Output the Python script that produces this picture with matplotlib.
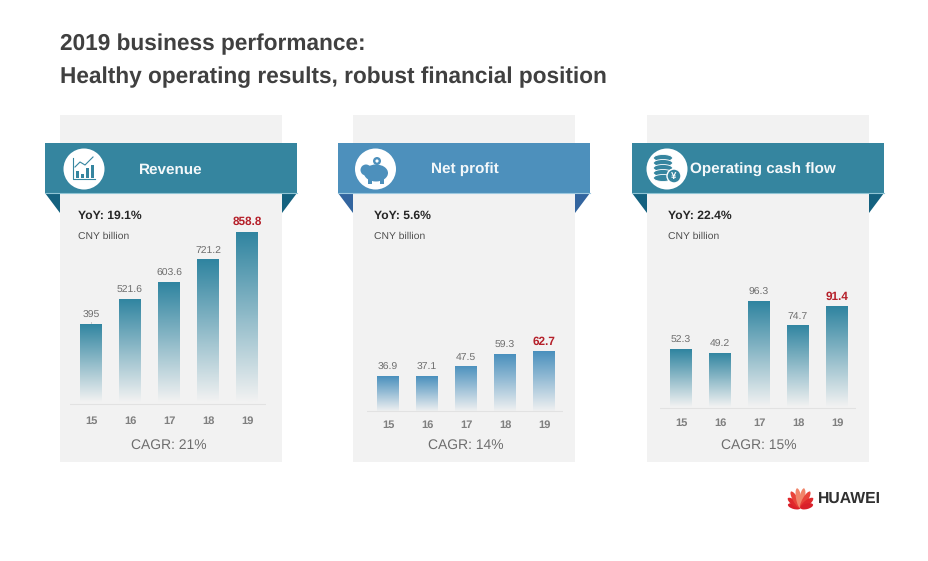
import numpy as np
import matplotlib
matplotlib.use("Agg")
import matplotlib.pyplot as plt
from matplotlib.colors import LinearSegmentedColormap
from matplotlib.patches import Circle, Ellipse, Polygon, Rectangle

plt.rcParams['font.family'] = ['Liberation Sans', 'DejaVu Sans']
plt.rcParams['text.hinting'] = 'no_hinting'

W, H = 929, 561

years = ['15', '16', '17', '18', '19']
revenue = [395, 521.6, 603.6, 721.2, 858.8]
net_profit = [36.9, 37.1, 47.5, 59.3, 62.7]
cash_flow = [52.3, 49.2, 96.3, 74.7, 91.4]
value_labels = [
    ['395', '521.6', '603.6', '721.2', '858.8'],
    ['36.9', '37.1', '47.5', '59.3', '62.7'],
    ['52.3', '49.2', '96.3', '74.7', '91.4'],
]
titles = ['Revenue', 'Net profit', 'Operating cash flow']
yoy = ['YoY: 19.1%', 'YoY: 5.6%', 'YoY: 22.4%']
cagr = ['CAGR: 21%', 'CAGR: 14%', 'CAGR: 15%']
series = [revenue, net_profit, cash_flow]

panel_left = [60, 353, 647]
title_x = [171, 465, 763]
icon_x = [84, 375.5, 667]
text_x = [78, 374, 668]
first_bar = [91, 388, 681]
base_y = [402, 412, 407]
axis_y = [404, 411, 408]
tick_y = [421, 425, 423]
px_per_unit = [0.198, 0.97, 1.1]
ribbon_col = ['#35859f', '#4d90bc', '#35859f']
tail_col = ['#14617f', '#33659f', '#14617f']
edge_col = ['#8fc4d4', '#9cc8e0', '#8fc4d4']
bar_col = ['#2f84a0', '#4a90bd', '#2f84a0']
panel_col = '#f2f2f2'

fig = plt.figure(figsize=(W / 100, H / 100), dpi=100, facecolor='white')

# page layer in pixel coords, y going down like the picture
bg = fig.add_axes([0, 0, 1, 1])
bg.set_xlim(0, W)
bg.set_ylim(H, 0)
bg.axis('off')

bg.text(60, 44, '2019 business performance:', fontsize=16.25, fontweight='bold',
        color='#404040', va='center')
bg.text(60, 77, 'Healthy operating results, robust financial position', fontsize=16.25,
        fontweight='bold', color='#404040', va='center')

for i in range(3):
    x = panel_left[i]
    bg.add_patch(Rectangle((x, 115), 222, 347, color=panel_col, lw=0))
    bg.add_patch(Polygon([(x - 15, 193), (x, 193), (x, 213)], color=tail_col[i], lw=0))
    bg.add_patch(Polygon([(x + 222, 193), (x + 237, 193), (x + 222, 213)], color=tail_col[i], lw=0))
    bg.add_patch(Rectangle((x - 15, 143), 252, 50, color=ribbon_col[i], lw=0))
    bg.plot([x - 15, x + 237], [192.8, 192.8], color=edge_col[i], lw=0.8)
    bg.add_patch(Circle((icon_x[i], 169), 20.5, color='white', lw=0))
    bg.text(title_x[i], 169.5, titles[i], color='#f4f8fa', fontsize=11, fontweight='bold',
            ha='center', va='center')
    bg.text(text_x[i], 216, yoy[i], color='#262626', fontsize=8.7, fontweight='bold', va='center')
    bg.text(text_x[i], 236, 'CNY billion', color='#505050', fontsize=7.5, va='center')
    bg.text(first_bar[i] + 78, 445, cagr[i], color='#6e6e6e', fontsize=10, ha='center', va='center')

# revenue icon
c = ribbon_col[0]
bg.plot([73, 73, 95], [158, 179, 179], color=c, lw=0.8)
for bx, top in zip([76, 81, 86, 91], [171, 174, 168, 165]):
    bg.add_patch(Rectangle((bx, top), 3.5, 178 - top, color=c, lw=0))
bg.plot([75, 80, 85, 93], [167, 162, 165, 157], color=c, lw=0.8)

# piggy bank icon
c = ribbon_col[1]
bg.add_patch(Ellipse((376, 173), 24, 17, color=c, lw=0))
bg.add_patch(Circle((366, 170), 5.5, color=c, lw=0))
bg.add_patch(Rectangle((368, 178), 4, 6, color=c, lw=0))
bg.add_patch(Rectangle((380, 178), 4, 6, color=c, lw=0))
bg.add_patch(Circle((377, 161), 4, color=c, lw=0))
bg.add_patch(Circle((377, 161), 1.6, color='white', lw=0))

# coin stack icon
c = ribbon_col[2]
for cy in [158, 163, 168, 173, 178]:
    bg.add_patch(Ellipse((663, cy), 19, 7, facecolor=c, edgecolor='white', lw=0.6))
bg.add_patch(Circle((674, 176), 7, facecolor=c, edgecolor='white', lw=1))
bg.text(674, 176, '¥', color='white', fontsize=7, fontweight='bold', ha='center', va='center')

# tiny leader above the 395 bar
bg.plot([91, 91], [322, 325], color='#c8c8c8', lw=0.7)

# logo
petal_ang = [-75, -52, -30, -10, 10, 30, 52, 75]
petal_len = [13, 16, 19, 20, 20, 19, 16, 13]
petal_col = ['#d9202a', '#e0282c', '#e8443a', '#f0856a', '#f0856a', '#e8443a', '#e0282c', '#d9202a']
for ang, ln, col in zip(petal_ang, petal_len, petal_col):
    r = np.radians(ang)
    bg.add_patch(Ellipse((800.5 + ln / 2 * np.sin(r), 508 - ln / 2 * np.cos(r)), 5.5, ln,
                         angle=ang, color=col, lw=0))
bg.text(818, 499, 'HUAWEI', color='#303030', fontsize=11.3, fontweight='bold', va='center')

# the three bar charts
for i in range(3):
    left = first_bar[i] - 21
    right = first_bar[i] + 175
    top = 200
    # extra room below the baseline so the thin axis line is not clipped
    ax = fig.add_axes([left / W, 1 - (base_y[i] + 5) / H, (right - left) / W, (base_y[i] + 5 - top) / H])
    ax.patch.set_alpha(0)
    pos = np.arange(len(years))
    bars = ax.bar(pos, series[i], width=0.54, color='none', lw=0)

    cmap = LinearSegmentedColormap.from_list('fade', [panel_col, bar_col[i]])
    grad = np.linspace(1, 0, 128).reshape(-1, 1)
    for b in bars:
        im = ax.imshow(grad, extent=[b.get_x(), b.get_x() + b.get_width(), 0, b.get_height()],
                       aspect='auto', cmap=cmap, vmin=0, vmax=1)
        im.set_clip_path(b)

    ax.axhline((base_y[i] - axis_y[i]) / px_per_unit[i], color='#e2e2e2', lw=0.8, zorder=5)

    ax.set_xlim(-21 / 39, 175 / 39)
    ax.set_ylim(-5 / px_per_unit[i], (base_y[i] - top) / px_per_unit[i])
    for s in ax.spines.values():
        s.set_visible(False)
    ax.set_yticks([])
    ax.set_xticks(pos)
    ax.set_xticklabels(years, fontsize=8, fontweight='bold', color='#7f7f7f')
    ax.tick_params(axis='x', length=0, pad=(tick_y[i] - 5 - base_y[i] - 5) * 0.72)

    for j in pos:
        last = j == len(years) - 1
        ax.annotate(value_labels[i][j], (j, series[i][j]), xytext=(0, 3), textcoords='offset points',
                    ha='center', va='bottom', fontsize=8.5 if last else 7.5,
                    fontweight='bold' if last else 'normal',
                    color='#b5202a' if last else '#6e6e6e')

fig.savefig('out.png', dpi=100)
